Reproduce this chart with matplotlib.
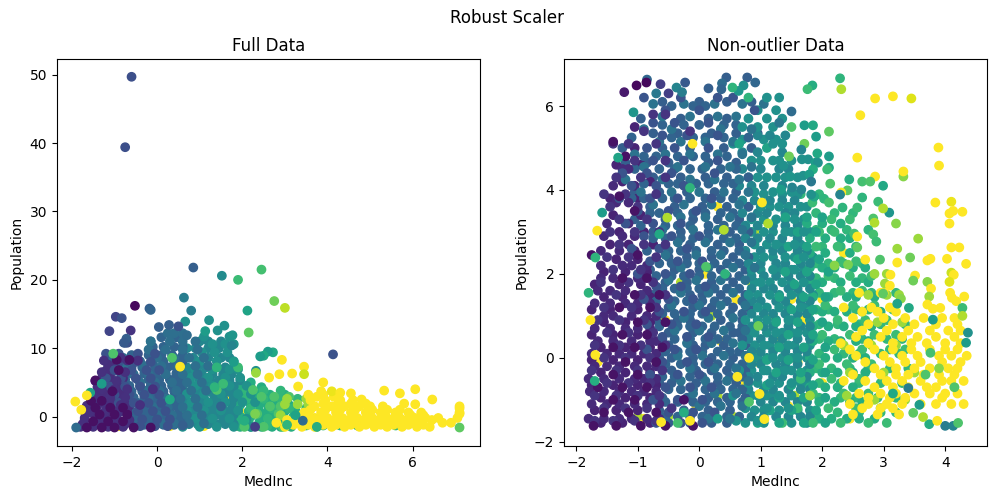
import numpy as np
import matplotlib
matplotlib.use("Agg")
import matplotlib.pyplot as plt

TITLE = "Robust Scaler"
PANEL_TITLES = ["Full Data", "Non-outlier Data"]
XLABEL = "MedInc"
YLABEL = "Population"

# ---------- Full Data: rows {Population: [MedInc, ...]} per colour band ----------
L_yellow_core = {-1.4:[-0.9,0.3,1.1,1.9,2.4], 0.5:[0.6,1.2,2.0], 2.5:[0.5,1.7]}
L_fill_green = {-1.5:[1.95,2.2,2.45,2.7,2.9,3.15], -0.8:[1.9,2.15,2.4,2.65,2.85,3.1], 0.0:[1.95,2.2,2.45,2.7,2.95,3.2], 0.8:[1.9,2.15,2.4,2.6,2.8,3.0,3.25], 1.7:[1.95,2.2,2.4,2.6,2.85,3.1], 2.4:[1.9,2.15,2.35,2.6,2.8], 3.2:[1.9,2.1,2.35,2.65,3.0], 4.3:[1.95,2.2,2.45], 5.0:[2.2]}
L_fill_teal = {-1.1:[0.75,0.95,1.2,1.4,1.6,1.8], -0.5:[0.7,0.9,1.1,1.3,1.55,1.75], 0.3:[0.75,0.95,1.2,1.4,1.6,1.8], 1.1:[0.7,0.9,1.15,1.35,1.55,1.75], 1.9:[0.6,0.85,1.05,1.3,1.5,1.75], 2.7:[0.65,0.9,1.1,1.35,1.55,1.8], 3.6:[0.55,0.8,1.0,1.25,1.45,1.7], 4.4:[0.6,0.85,1.1,1.3,1.55,1.8], 5.3:[0.55,0.75,1.0,1.25,1.45,1.7,1.95], 6.2:[0.6,0.8,1.05,1.3,1.55,1.75], 7.2:[0.7,0.95,1.15,1.4,1.6,1.8], 8.6:[0.65,0.85,1.2,1.5,1.7], 10.0:[0.7,0.9,1.2,1.45], 11.0:[1.0,1.2,1.5]}
L_fill_blue = {-1.2:[-0.55,-0.3,-0.1,0.15,0.4,0.6], -0.4:[-0.5,-0.2,0.05,0.2,0.45,0.6], 0.4:[-0.6,-0.35,-0.15,0.1,0.3,0.5], 1.2:[-0.65,-0.4,-0.2,0.05,0.3,0.5], 2.0:[-0.7,-0.45,-0.25,0.0,0.25,0.45], 2.8:[-0.8,-0.55,-0.3,-0.05,0.2,0.4], 3.7:[-0.9,-0.6,-0.35,-0.1,0.15,0.4,0.6], 4.5:[-0.95,-0.65,-0.4,-0.15,0.1,0.35,0.55], 5.4:[-1.05,-0.75,-0.45,-0.2,0.05,0.3,0.5], 6.3:[-1.1,-0.85,-0.6,-0.3,-0.05,0.2,0.45], 7.2:[-1.15,-0.9,-0.6,-0.35,-0.05,0.25,0.45], 8.1:[-1.1,-0.75,-0.4,-0.1,0.15,0.4,0.6], 9.0:[-0.9,-0.6,-0.2,0.1,0.35,0.6], 10.2:[-0.1,0.15,0.4,0.6], 11.6:[0.1,0.45]}
L_fill_dark = {-1.1:[-1.75,-1.5,-1.25,-1.0,-0.75], -0.2:[-1.7,-1.45,-1.2,-0.95,-0.7], 0.7:[-1.7,-1.45,-1.2,-0.95,-0.7], 1.6:[-1.65,-1.4,-1.15,-0.95,-0.65], 2.5:[-1.55,-1.3,-1.0,-0.8], 3.4:[-1.45,-1.25,-1.05,-0.85], 4.3:[-1.4,-1.15,-0.85], 5.6:[-1.3,-1.1,-0.8], 6.7:[-1.2,-1.0], 7.6:[-1.15,-0.95]}
L_green_low = {-1.3:[2.6,3.0,3.5,3.9,4.3,4.7,5.6], -0.3:[2.1,2.6,3.2,3.7], 1.2:[2.2,2.7,3.1,3.5], 2.6:[2.1,2.5,2.9,3.3], 3.8:[2.1,2.5,2.9]}
L_teal = {-1.5:[0.6,1.0,1.4,1.8,2.2], -0.3:[0.9,1.3,1.7,2.1], 0.9:[0.7,1.1,1.5,1.9], 2.1:[0.8,1.2,1.6,2.0,2.3], 3.3:[0.7,1.1,1.5,1.9,2.2], 4.5:[0.9,1.3,1.7,2.1], 5.7:[0.8,1.2,1.6,1.95], 6.9:[0.9,1.3,1.7,1.9], 8.1:[1.0,1.4,1.8], 9.4:[1.05,1.35,1.65], 10.6:[1.3,1.6,1.8], 11.7:[1.1,1.7]}
L_steel = {-1.0:[0.1,0.4,0.75,1.1], 0.2:[0.0,0.35,0.7,1.05], 1.4:[-0.1,0.25,0.6,0.95], 2.6:[-0.2,0.2,0.55,0.9], 3.8:[-0.3,0.05,0.45,0.8,1.15], 5.0:[-0.4,-0.05,0.35,0.7,1.05], 6.2:[-0.55,-0.2,0.2,0.6,0.95], 7.4:[-0.7,-0.3,0.1,0.5,0.9,1.2], 8.6:[-0.8,0.0,0.4,0.75,1.1], 9.8:[-0.2,0.2,0.6,0.95], 11.0:[-0.15,0.3,0.6,0.9], 12.2:[0.25,0.4,0.6]}
L_blue = {-1.4:[-0.4,-0.05,0.25], -0.4:[-0.7,-0.35,0.0,0.3], 0.8:[-0.8,-0.45,-0.1,0.2], 2.0:[-0.9,-0.55,-0.2,0.1], 3.2:[-1.0,-0.65,-0.3,0.05], 4.4:[-1.1,-0.75,-0.4,-0.05], 5.6:[-1.2,-0.85,-0.5,-0.15], 6.8:[-1.0,-0.6,-0.25,0.05], 8.0:[-0.9,-0.5,-0.15], 9.2:[-1.2,-0.9,-0.45,-0.05], 10.8:[-0.75,-0.7]}
L_indigo = {-1.5:[-1.8,-1.5,-1.15,-0.8], -0.5:[-1.7,-1.35,-1.0,-0.65], 0.6:[-1.6,-1.25,-0.9], 1.7:[-1.55,-1.2,-0.85,-0.4], 2.8:[-1.45,-1.1,-0.75], 4.0:[-1.3,-1.0,-0.7,-0.1], 5.2:[-1.45,-0.95], 6.5:[-1.3,-0.75], 8.2:[-1.25,-0.7,-0.45], 8.6:[-0.85]}
L_dark = {-1.6:[-1.65,-1.3,-1.0,-0.55,-0.15], -0.7:[-1.5,-1.15,-0.8], 0.3:[-1.35,-1.0,-0.7], 1.3:[-1.45,-1.1,-0.8], 2.3:[-1.55,-1.3], 3.7:[-1.05], 5.3:[-1.45], 6.8:[-0.9], 8.3:[-0.65,-0.95]}
L_green_top = {-1.5:[2.05,2.5,2.95,3.75], 0.4:[2.35,2.85], 1.5:[2.65,2.9], 2.9:[2.45,2.75,3.1], 3.9:[1.4,2.25]}
L_lime_mid = {0.2:[2.9,3.4], 1.8:[3.0,3.3,3.55], 2.6:[3.05,3.5]}
L_yellow_right = {-1.5:[3.0,3.4,3.7,4.1,4.4,4.75,5.1,5.4,5.75,6.1,6.4], -0.9:[2.8,3.2,3.6,3.95,4.3,4.65,5.0,5.3,5.65,6.0,6.7,6.9], -0.2:[3.3,3.7,4.0,4.35,4.7,5.05,5.4,5.7,6.05,6.3,6.6,7.05], 0.6:[3.45,3.85,4.2,4.55,4.9,5.25,5.6,5.9,6.2,7.1], 1.5:[3.7,4.1,4.4,4.75,5.0,5.3,7.1], 2.4:[3.6,3.95,4.3,4.6], 3.2:[3.55,3.9]}
L_yellow_right2 = {-1.2:[3.2,3.55,3.9,4.2,4.55,4.9,5.25,5.55,5.9,6.25], -0.5:[3.05,3.45,3.8,4.15,4.5,4.85,5.2,5.5,5.85,6.15,6.45], 0.2:[3.55,3.9,4.25,4.6,4.95,5.3,5.6,5.95,6.25], 1.0:[3.6,3.95,4.3,4.65,5.05,5.4,5.7], 1.9:[3.9,4.25,4.55,4.9], 2.9:[3.75,4.15]}

# sparse points read individually: (MedInc, Population, colour)
L_sparse = [(-0.6,49.7,.24),(-0.75,39.4,.24),(0.85,21.8,.3),(1.52,20.6,.48),(1.9,20,.68),(2.45,21.5,.7),(2.75,16.9,.78),(3.0,15.9,.9),
 (-0.52,16.2,.02),(-0.18,15.8,.3),(-0.15,15.6,.32),(-0.97,14.6,.2),(-0.83,14.4,.25),(0.63,17.4,.42),(0.8,15.5,.42),(2.12,15.5,.58),(1.22,14.1,.5),
 (0.66,13.9,.5),(1.58,13.3,.5),(1.42,12.6,.5),(2.15,12.3,.75),(-1.12,12.5,.2),(-0.62,12.6,.15),(0.04,13.1,.3),(0.28,13.4,.3),(0.5,13.2,.25),(0.7,11.9,.35),
 (1.13,12.5,.55),(1.77,11.9,.52),(1.75,10.4,.45),(-0.72,11.4,.3),(-0.78,10.8,.28),(-0.15,11.0,.38),(4.13,9.1,.25),
 (-1.03,9.2,.72),(0.35,8.6,.72),(0.54,7.3,1),(-1.3,4.8,.55),(-1.57,3.5,.58),(-1.92,2.2,1),(-1.78,1.0,1),(-1.65,3.1,1),(-1.9,-1.6,.35),
 (7.1,0.4,1),(7.1,1.2,1),(6.46,2.5,1),(6.06,4,1),(5.7,3.4,1),(5.33,3.8,1),(5.8,1.9,1),(6.06,1.8,1),
 (2.93,8.3,1),(3.45,7.3,1),(3.45,6.2,.92),(3.17,6.3,1),(2.87,6.2,1),(2.63,5.7,1),(2.32,6.7,.5),(2.32,6.4,.85),(3.9,5.0,1),(3.85,3.7,1),(3.31,4.4,1),(4.1,3.7,.97),(4.3,3.5,1),(4.55,3.4,1),(4.8,2.5,1),
 (2.72,9.4,.6),(2.6,9.5,.55),(2.5,8.9,.6),(2.42,8.8,.55),(1.9,7.2,.68),(1.8,8.0,.55),(1.4,7.2,.65),(1.55,4.8,.68),(1.35,4.3,.65),
 (3.05,-1.2,.65),(3.25,0.2,.58),(3.42,-0.6,.35),(3.75,-1.5,.62),(2.3,0.4,.8),(2.05,-0.6,.62),(0.3,2.5,.6),(0.6,-1.3,.3),(1.5,1.5,.32),(2.3,-1.5,.18),(7.1,-1.6,.75)]

# ---------- Non-outlier Data ----------
R_yellow_core = {-1.45:[-0.9,1.9,2.45], -1.15:[-0.05,1.45], -0.6:[-1.7,0.75,2.0], -0.1:[-1.65,0.95,1.6], 0.4:[0.35,1.3], 0.9:[-0.55,1.7], 1.4:[0.6,1.5,2.0], 2.0:[-0.9,0.1], 2.5:[1.6,2.35], 3.6:[0.3]}
R_lime_core = {-1.4:[-0.5,-1.0,0.55], -0.9:[0.3,1.55], 0.2:[0.9,1.75], 1.0:[0.2,1.2], 1.8:[-0.3,0.85], 3.0:[0.45,0.9]}
R_deep_green = {-1.3:[1.9,2.25,2.6,2.95,3.2], -0.95:[1.95,2.3,2.55,2.9,3.2], -0.6:[1.95,2.3,2.6,2.95,3.3], -0.25:[1.9,2.15,2.45,2.75,3.1,3.4], 0.1:[1.95,2.35,2.6,2.95,3.25], 0.45:[1.95,2.2,2.65,3.05,3.3], 0.8:[1.95,2.25,2.6,2.95,3.35], 1.15:[1.9,2.1,2.55,2.75,3.15], 1.55:[1.95,2.2,2.5,2.8,3.2], 1.9:[1.9,2.2,2.65], 2.25:[1.9,2.1,2.35,2.65], 2.65:[2.0,2.3,2.55], 3.05:[1.9,2.15,2.4], 3.45:[1.9,2.2,2.5], 3.9:[1.65,1.95]}
R_deep_teal = {-1.55:[0.75,1.05,1.5,1.75], -1.25:[0.9,1.05,1.3,1.6,1.8], -0.9:[0.85,1.1,1.2,1.5,1.8], -0.6:[0.95,1.3,1.65,1.75], -0.3:[0.85,1.1,1.3,1.5,1.75], 0.0:[0.95,1.1,1.35,1.5,1.75], 0.3:[0.9,1.15,1.3,1.55,1.8], 0.6:[0.85,1.1,1.35,1.5,1.75], 0.9:[0.95,1.25,1.5,1.8], 1.2:[0.85,1.1,1.45,1.75], 1.5:[0.95,1.3,1.65,1.85], 1.8:[0.9,1.15,1.5,1.8], 2.1:[1.0,1.3,1.5,1.7], 2.4:[0.9,1.2,1.55,1.85], 2.7:[1.1,1.35,1.65], 3.0:[0.85,1.2,1.5,1.8], 3.3:[1.05,1.4,1.7], 3.6:[0.8,1.15,1.45,1.75], 3.9:[1.05,1.35,1.6], 4.3:[0.8,1.1,1.4,1.6], 4.7:[1.0,1.3,1.5], 5.2:[0.7,1.05,1.25], 5.7:[0.8,1.1,1.35]}
R_deep_blue = {-1.55:[-0.5,-0.15,0.2,0.45], -1.25:[-0.65,-0.25,0.15,0.5], -0.95:[-0.6,-0.2,0.15,0.45,0.75], -0.6:[-0.65,-0.45,-0.05,0.3,0.6], -0.3:[-0.45,-0.05,0.2,0.45,0.75], 0.0:[-0.65,-0.45,-0.1,0.2,0.55], 0.3:[-0.5,-0.1,0.1,0.4,0.75], 0.6:[-0.5,-0.1,0.2,0.55,0.65], 0.9:[-0.7,-0.35,-0.15,0.35,0.7], 1.2:[-0.5,-0.1,0.2,0.55,0.8], 1.5:[-0.75,-0.15,0.05,0.35,0.75], 1.8:[-0.55,-0.2,0.2,0.55], 2.1:[-0.8,-0.4,0.0,0.35,0.75], 2.4:[-0.5,-0.2,0.2,0.55,0.8], 2.7:[-0.75,-0.15,0.3,0.65], 3.0:[-0.75,-0.3,0.15,0.5,0.8], 3.3:[-1.05,-0.55,-0.1,0.3,0.65], 3.6:[-0.8,-0.4,0.05,0.45,0.8], 3.95:[-1.05,-0.65,-0.2,0.25,0.6], 4.3:[-0.75,-0.3,0.1,0.45,0.8], 4.65:[-1.2,-0.85,-0.5,0.15,0.6], 5.0:[-1.25,-0.6,-0.15,0.4,0.85], 5.35:[-0.75,-0.35,0.2,0.6,0.95], 5.7:[-0.95,-0.3,0.15,0.45], 6.1:[-0.6,0.0,0.45,0.85]}
R_deep_dark = {-1.55:[-1.6,-1.25,-0.8], -1.25:[-1.7,-1.35,-1.0], -0.95:[-1.6,-1.2,-0.8], -0.65:[-1.75,-1.4,-1.0,-0.7], -0.35:[-1.6,-1.2,-0.8], -0.05:[-1.75,-1.4,-1.0], 0.25:[-1.6,-1.2,-0.8], 0.55:[-1.75,-1.4,-1.0], 0.85:[-1.55,-1.2,-0.8], 1.15:[-1.75,-1.45,-1.0], 1.45:[-1.55,-1.25,-0.8], 1.75:[-1.7,-1.3,-0.95], 2.05:[-1.55,-1.2,-0.85], 2.35:[-1.35,-1.0], 2.7:[-1.45,-1.15,-0.75], 3.0:[-1.3,-0.9], 3.4:[-1.4,-0.95], 3.8:[-1.45,-1.0], 4.2:[-1.25,-0.8], 4.6:[-1.35,-0.95], 5.0:[-1.05], 5.5:[-1.05]}
R_fill_green = {-1.45:[1.95,2.15,2.4,2.6,2.85], -1.05:[1.75,1.95,2.2,2.45,2.65], -0.7:[1.8,2.05,2.25,2.5], -0.35:[1.8,2.0,2.25,2.5,2.7], 0.0:[1.8,2.05,2.25,2.5,2.7], 0.4:[1.85,2.1,2.3,2.55,2.75], 0.75:[1.85,2.1,2.35,2.55,2.8], 1.1:[1.8,2.0,2.2,2.4,2.65,2.95], 1.45:[1.85,2.1,2.4,2.55,2.85], 1.8:[1.8,2.0,2.3,2.55,2.75], 2.15:[1.8,2.0,2.2,2.5,2.7], 2.5:[1.8,2.05,2.45], 2.85:[1.8,2.05,2.3,2.45], 3.2:[1.75,2.0,2.3]}
R_fill_teal = {-1.4:[0.85,1.05,1.25,1.45,1.65,1.8], -1.05:[0.8,1.0,1.2,1.4,1.6,1.75], -0.75:[0.8,1.05,1.2,1.45,1.65,1.8], -0.45:[0.8,0.95,1.2,1.35,1.6,1.75], -0.15:[0.85,1.0,1.25,1.4,1.6,1.8], 0.15:[0.85,1.0,1.2,1.4,1.6,1.75], 0.45:[0.8,1.0,1.2,1.35,1.6,1.8], 0.75:[0.85,1.05,1.2,1.45,1.65,1.8], 1.05:[0.85,1.05,1.2,1.4,1.6,1.75], 1.35:[0.85,1.0,1.25,1.4,1.65,1.8], 1.65:[0.85,1.05,1.2,1.45,1.6,1.8], 1.95:[0.85,1.05,1.25,1.45,1.65,1.8], 2.25:[0.8,1.0,1.25,1.4,1.65,1.8], 2.55:[0.75,1.0,1.2,1.35,1.6,1.75], 2.85:[0.75,0.95,1.15,1.35,1.6], 3.15:[0.75,0.95,1.2,1.4,1.6], 3.45:[0.7,0.95,1.1,1.4,1.55], 3.75:[0.7,0.9,1.15,1.35,1.55], 4.1:[0.65,0.85,1.05,1.35], 4.5:[0.7,1.0,1.3,1.45], 4.9:[0.7,0.95,1.35], 5.3:[0.95,1.15,1.4]}
R_fill_blue = {-1.4:[-0.55,-0.35,-0.15,0.05,0.25,0.45,0.65], -1.05:[-0.55,-0.35,-0.1,0.1,0.3,0.5,0.7], -0.75:[-0.5,-0.3,-0.1,0.1,0.35,0.55,0.7], -0.45:[-0.6,-0.4,-0.15,0.05,0.3,0.5,0.7], -0.15:[-0.55,-0.3,-0.1,0.1,0.3,0.5,0.7], 0.15:[-0.55,-0.35,-0.15,0.05,0.3,0.5,0.65], 0.45:[-0.6,-0.4,-0.15,0.1,0.3,0.45,0.7], 0.75:[-0.65,-0.35,-0.15,0.05,0.25,0.5,0.7], 1.05:[-0.6,-0.4,-0.15,0.05,0.3,0.5,0.7], 1.35:[-0.7,-0.4,-0.2,0.05,0.25,0.45,0.7], 1.65:[-0.6,-0.4,-0.2,0.0,0.25,0.45,0.65], 1.95:[-0.7,-0.45,-0.25,0.0,0.2,0.45,0.65], 2.25:[-0.65,-0.45,-0.2,0.0,0.25,0.45,0.65], 2.55:[-0.85,-0.5,-0.3,-0.05,0.2,0.4,0.65], 2.85:[-0.75,-0.55,-0.3,-0.1,0.15,0.4,0.6], 3.15:[-0.95,-0.55,-0.35,-0.15,0.15,0.4,0.6], 3.45:[-0.8,-0.65,-0.35,-0.1,0.1,0.35,0.55], 3.8:[-1.1,-0.9,-0.6,-0.4,-0.15,0.1,0.35,0.55], 4.15:[-0.9,-0.5,-0.35,-0.05,0.15,0.4,0.55], 4.5:[-1.05,-0.65,-0.4,-0.15,0.05,0.35,0.6], 4.8:[-0.9,-0.7,-0.35,-0.1,0.1,0.45], 5.25:[-1.1,-0.45,-0.1,0.1,0.4,0.8], 5.55:[-0.6,-0.25,0.0,0.4,0.6], 6.0:[-0.45,-0.1,0.1]}
R_fill_dark = {-1.45:[-1.8,-1.55,-1.3,-1.1,-0.85,-0.65], -1.1:[-1.75,-1.5,-1.3,-1.05,-0.85,-0.65], -0.8:[-1.78,-1.55,-1.3,-1.1,-0.9,-0.7], -0.5:[-1.8,-1.55,-1.3,-1.05,-0.9,-0.7], -0.2:[-1.7,-1.5,-1.3,-1.05,-0.85,-0.7], 0.1:[-1.75,-1.5,-1.3,-1.1,-0.9,-0.7], 0.4:[-1.65,-1.4,-1.1,-0.8,-0.7], 0.7:[-1.7,-1.45,-1.2,-1.0,-0.8], 1.0:[-1.55,-1.4,-1.1,-0.85,-0.7], 1.3:[-1.7,-1.45,-1.2,-1.0,-0.8], 1.6:[-1.65,-1.45,-1.2,-0.85], 1.9:[-1.6,-1.4,-1.0,-0.9], 2.2:[-1.6,-1.25,-1.1,-0.85], 2.55:[-1.6,-1.3,-1.05], 2.9:[-1.55,-1.25,-1.05], 3.2:[-1.5,-1.15], 3.7:[-1.35,-1.15], 4.1:[-1.4,-1.05], 4.5:[-1.25,-1.15]}
R_green = {-1.55:[1.35,1.85,2.3,2.75,3.05], -1.2:[1.6,2.1,2.55,2.95], -0.85:[1.85,2.35,2.75], -0.5:[1.65,2.15,2.6,3.0], -0.15:[1.95,2.4,2.8], 0.2:[2.2,2.65,3.1,3.35], 0.55:[2.0,2.45,2.85,3.2], 0.9:[2.25,2.7,3.05], 1.25:[2.05,2.5,2.85], 1.6:[2.3,2.65], 1.95:[2.1,2.45,2.8], 2.3:[2.3,2.55], 2.65:[1.9,2.25], 3.0:[1.95,2.2], 3.3:[2.15,2.45]}
R_greenteal = {-1.55:[0.95,1.3,1.7,2.05], -1.25:[1.15,1.5,1.9], -0.95:[1.3,1.7,2.05], -0.65:[1.1,1.5,1.85], -0.35:[1.25,1.65,2.05], -0.05:[1.1,1.45,1.85], 0.25:[1.3,1.7,2.05], 0.55:[1.45,1.85], 0.85:[1.25,1.6,2.0], 1.15:[1.5,1.85], 1.45:[1.3,1.7,2.05], 1.75:[1.55,1.9], 2.05:[1.4,1.75,2.1], 2.35:[1.6,1.95], 2.65:[1.45,1.75], 3.0:[1.6,1.9], 3.35:[1.4,1.75,2.0], 5.0:[1.1]}
R_teal = {-1.5:[0.6,0.95], -1.2:[0.75,1.1,1.45], -0.9:[0.55,0.95,1.3], -0.6:[0.8,1.15,1.5], -0.3:[0.65,1.05,1.4], 0.0:[0.85,1.2,1.6], 0.3:[0.7,1.05,1.45], 0.6:[0.9,1.25,1.6], 0.9:[0.75,1.1,1.45], 1.2:[0.95,1.3,1.65], 1.5:[0.8,1.15,1.5], 1.8:[1.0,1.35,1.7], 2.1:[0.85,1.2,1.55], 2.4:[1.05,1.4,1.7], 2.7:[0.9,1.25,1.55], 3.0:[1.05,1.4,1.7], 3.3:[0.85,1.25,1.55], 3.6:[1.0,1.3,1.65], 3.95:[0.9,1.2,1.5], 4.3:[0.95,1.25], 4.7:[0.85,1.2], 5.1:[0.55,1.2,1.35], 5.5:[0.7,0.95,1.2], 5.9:[0.95,1.25]}
R_steel = {-1.45:[0.15,0.5], -1.15:[0.0,0.35,0.7], -0.85:[-0.1,0.25,0.6], -0.55:[-0.3,0.1,0.45,0.8], -0.25:[-0.15,0.25,0.6], 0.05:[-0.35,0.05,0.4,0.75], 0.35:[-0.2,0.2,0.55], 0.65:[-0.4,0.0,0.4,0.75], 0.95:[-0.25,0.15,0.55], 1.25:[-0.45,0.0,0.35,0.75], 1.55:[-0.3,0.15,0.55], 1.85:[-0.5,-0.05,0.35,0.75], 2.15:[-0.3,0.15,0.55,0.9], 2.45:[-0.55,-0.05,0.35,0.75], 2.75:[-0.35,0.1,0.5,0.85], 3.05:[-0.6,-0.1,0.3,0.7], 3.35:[-0.3,0.1,0.5,0.85], 3.65:[-0.75,-0.25,0.2,0.65], 3.95:[-0.95,-0.45,0.0,0.4,0.8], 4.25:[-1.2,-0.6,-0.15,0.25,0.65], 4.55:[-0.9,-0.35,0.1,0.5,0.85], 4.85:[-1.05,-0.55,-0.15,0.3,0.7], 5.15:[-0.65,-0.3,0.1,0.55], 5.45:[-0.9,-0.45,0.35,0.85], 5.75:[-0.6,-0.15,0.3,0.6], 6.05:[-0.75,-0.25,0.25,0.7,1.05]}
R_blue = {-1.55:[-0.7,-0.3,0.05], -1.3:[-0.5,-0.1,0.25], -1.0:[-0.75,-0.35,0.05], -0.7:[-0.55,-0.15,0.2], -0.4:[-0.8,-0.35,0.0], -0.1:[-0.6,-0.2,0.15], 0.2:[-0.85,-0.4,-0.05], 0.5:[-0.6,-0.2,0.15], 0.8:[-0.85,-0.45,-0.05], 1.1:[-0.65,-0.25,0.1], 1.4:[-0.9,-0.5,-0.1], 1.7:[-0.7,-0.3,0.1], 2.0:[-1.0,-0.55,-0.15], 2.3:[-0.8,-0.35,0.05], 2.6:[-1.1,-0.65,-0.2], 2.9:[-0.9,-0.45,0.0], 3.2:[-1.2,-0.75,-0.3], 3.5:[-1.0,-0.5,-0.05], 3.8:[-1.3,-0.8,-0.35,0.2], 4.1:[-1.1,-0.7,-0.25], 4.4:[-1.25,-0.85,-0.45,0.25], 4.7:[-0.75,-0.25,0.3], 5.0:[-0.85,-0.4,0.15], 5.3:[-0.6,-0.2,0.3], 5.6:[-0.75,-0.4,0.15], 5.9:[-0.55,0.0,0.9], 6.2:[-0.9,-0.3,0.3,0.55]}
R_indigo = {-1.5:[-1.7,-1.4,-1.05,-0.7], -1.2:[-1.55,-1.2,-0.85,-0.45], -0.9:[-1.7,-1.35,-1.0,-0.65], -0.6:[-1.5,-1.15,-0.8], -0.3:[-1.75,-1.35,-1.0,-0.6], 0.0:[-1.55,-1.2,-0.8], 0.3:[-1.7,-1.3,-0.95,-0.55], 0.6:[-1.5,-1.15,-0.75], 0.9:[-1.65,-1.3,-0.9], 1.2:[-1.55,-1.1,-0.7], 1.5:[-1.35,-0.95,-0.55], 1.8:[-1.6,-1.15,-0.75], 2.1:[-1.4,-0.95], 2.4:[-1.5,-1.15,-0.7], 2.7:[-1.3,-0.9,-0.55], 3.0:[-1.45,-1.05,-0.65], 3.3:[-1.3,-0.85], 3.6:[-1.45,-1.0], 3.9:[-1.55,-1.2,-0.7], 4.3:[-1.35,-0.95,-0.55], 4.7:[-1.05,-0.55], 5.1:[-1.4,-1.15,-0.7], 5.4:[-0.9,-0.15], 5.8:[-0.75,-0.55]}
R_dark = {-1.62:[-1.72,-1.35,-0.95,-0.55,-0.1], -1.3:[-1.55,-1.15,-0.7], -1.0:[-1.4,-1.05,-0.25], -0.7:[-1.65,-1.25,-0.85], -0.4:[-1.4,-1.0], -0.1:[-1.2,-0.7], 0.25:[-1.4,-1.05,-0.6], 0.55:[-1.25,-0.85], 0.85:[-1.0,-0.55], 1.2:[-1.3,-0.8], 1.5:[-1.05,-0.65], 1.9:[-1.25,-0.85], 2.45:[-1.75,-1.0], 3.5:[-1.05], 3.85:[-1.3], 4.8:[-1.2], 5.15:[-1.4]}
R_lime_right = {-1.0:[2.85,3.35], -0.35:[2.45,3.0,3.5], 0.3:[2.35,2.8,3.2], 0.85:[2.9,3.3], 1.5:[2.75,3.05,3.25], 2.0:[2.85,3.05], -0.9:[1.8,2.4]}
R_yellow_right = {-1.35:[2.5,2.9,3.25], -1.1:[2.45,2.75,3.05,3.3,3.6,3.85,4.1,4.3], -0.85:[2.6,2.95,3.2,3.5,3.75,4.0,4.2], -0.55:[2.35,2.7,3.05,3.3,3.6,3.95,4.1,4.3], -0.25:[2.85,3.2,3.5,3.75,4.05,4.2], 0.05:[2.55,3.0,3.3,3.55,3.9,4.1,4.35], 0.35:[2.3,2.75,3.15,3.45,3.7,4.0,4.25], 0.65:[2.65,3.05,3.4,3.75,4.05,4.25], 0.95:[2.5,3.0,3.35,3.65,3.95,4.15], 1.2:[2.35,2.8,3.1], 1.55:[2.6,2.95,3.0]}
R_yellow_right2 = {-1.2:[2.65,2.95,3.15], -0.95:[2.75,3.1,3.35,3.95], -0.7:[2.85,3.15,3.4,3.7,3.85,4.15], -0.4:[2.5,2.95,3.2,3.4,3.65,3.9,4.15], -0.1:[2.7,3.1,3.35,3.6,3.95,4.25], 0.2:[2.45,2.85,3.15,3.45,3.75,4.0,4.2], 0.5:[2.55,2.95,3.3,3.55,3.85,4.15], 0.8:[2.75,3.15,3.5,3.85,4.2], 1.1:[2.65,2.9,3.2]}

# sparse points read individually: (MedInc, Population, colour)
R_sparse = [(2.29,6.66,.65),(2.31,6.4,.88),(1.84,6.49,.62),(1.76,6.4,.68),(2.86,6.18,1),(3.15,6.23,1),(3.45,6.18,.95),(2.62,5.78,1),(1.5,5.87,.35),(1.5,5.5,.72),(1.71,5.54,.55),(1.85,5.54,.6),(2.11,5.39,.75),(1.9,5.27,.55),
 (1.71,5.1,.78),(1.66,4.96,.45),(1.46,4.8,.78),(1.92,4.87,.6),(2.11,4.8,.55),(1.67,4.73,.5),(1.77,4.73,.5),(1.89,4.65,.55),(1.93,4.65,.5),(1.37,4.58,.5),(2.11,4.53,.6),(2.08,4.49,.68),(1.85,4.49,.62),
 (2.57,4.77,1),(3.89,5.01,1),(3.9,4.58,1),(3.32,4.32,.82),(3.32,4.44,1),(2.86,4.32,1),(1.48,4.32,.52),(1.69,4.34,.5),(1.79,4.37,.55),(1.82,4.2,.4),(2.44,4.25,.62),(2.65,4.2,.7),(2.78,4.2,.72),(2.99,4.1,.6),(2.13,4.15,.72),
 (2.41,3.99,.75),(2.31,3.94,1),(2.29,3.89,.45),(2.65,3.82,.65),(2.91,3.72,.68),(2.03,3.79,.65),(2.11,3.7,.7),(1.84,3.7,.68),(1.87,3.84,.6),(1.82,3.89,.5),(1.51,4.06,.45),(1.66,4.01,.45),(1.33,4.01,.55),
 (3.84,3.7,1),(4.1,3.72,.97),(4.28,3.48,1),(4.13,3.5,1),(4.07,3.44,1),(4.07,3.2,1),(3.09,3.46,.52),(2.99,3.56,.88),(2.57,3.58,.68),(2.33,3.58,.65),(2.83,3.32,.72),(2.85,3.22,.88),(3.2,3.2,.82),(2.75,3.05,.65),(2.83,2.94,.7),(2.88,2.77,.68),(2.52,2.96,.7),(2.57,2.89,1),(3.56,2.84,.85),(4.1,2.63,1),(4.23,2.63,1),(3.22,2.6,.85),(2.57,2.63,.75),
 (3.43,2.39,.78),(2.94,2.34,.72),(3.22,2.27,1),(3.71,2.32,1),(3.76,2.36,1),(4.03,2.36,1),(4.34,2.24,1),(2.7,2.34,1),(2.2,2.2,.82),(2.42,2.22,.8),(3.11,1.98,1),(3.51,1.96,1),(3.48,1.84,.78),(3.71,1.81,.82),(4.1,2.03,.92),(4.14,1.98,1),(4.07,1.81,.95),(3.77,1.65,1),(4.08,1.55,1),(3.74,1.46,.85),(4.11,1.43,1),(4.31,1.46,1),(4.18,1.35,1),(3.71,1.27,1),(3.8,1.17,1),(3.92,1.19,1),(4.28,1.19,.68),(4.28,1.0,.88),(3.41,1.19,.6),(3.28,1.41,.82),(3.22,1.29,.58),(3.02,1.77,.85),(2.99,1.53,.75),(3.1,1.72,1),
 (3.8,0.91,.55),(4.37,.6,.5),(4.34,.36,.55),(3.4,-.72,.42),(3.58,-1.12,.55),(3.76,.12,.7),(4.0,-1.62,.42),(4.13,-1.62,.45),(4.21,-1.55,.72),(3.74,-1.58,.62),(3.48,-1.31,.75),(3.64,-1.41,.88),(3.87,-1.5,1),(3.15,-.85,.6),(3.68,-.4,.72),(4.15,-.7,.72),(3.9,-.25,.82),
 (-.85,6.63,.33),(-.86,6.56,.02),(-1.02,6.49,.02),(-1.22,6.33,.07),(-.63,6.52,.18),(-.37,6.44,.45),(-.23,6.56,.28),(.44,6.68,.3),(.78,6.68,.3),(.91,6.56,.33),(.15,6.42,.3),(.37,6.54,.35),(.36,6.4,.32),(.72,6.49,.5),(.64,6.36,.53),(-.28,6.33,.42),(-.5,6.3,.18),(-.7,6.3,.4),(1.3,6.2,.5),(1.1,6.2,.5),(1.3,5.6,.4),
 (1.02,3.7,1),(-1.66,3.03,1),(-1.77,.9,1),(-1.69,.07,1),(-.62,-1.53,1),(-.15,-1.5,1),(1.06,-1.46,1),(.98,-.86,1),(.62,-.45,1),(.81,0,1),(-.11,5.1,1),(-.52,3.34,.88),(1.12,3.2,.88),(.4,3.05,.88),
 (.11,2.17,.72),(.42,2.0,.65),(.96,.76,.78),(.81,-1.05,.72),(-1.8,1.55,.65),(-1.69,2.39,.65),(-1.32,4.77,.58),(-1.07,5.85,.52),(-1.58,3.46,.55),(.54,6.44,.65),(.8,6.2,.65),(-1.7,-.55,.62),(-.25,-1.3,.62),(-.35,-1.55,.7),(.3,-1.45,.55),(-.15,4.05,.65),(.65,5.1,.58),(-.65,2.95,.6)]


def expand(rows, value):
    """Turn {y: [x, ...]} into x, y, colour lists."""
    xs, ys = [], []
    for y_val, x_vals in rows.items():
        xs += x_vals
        ys += [y_val] * len(x_vals)
    return xs, ys, [value] * len(xs)


def assemble(groups, sparse):
    xs, ys, cs = [], [], []
    for rows, value in groups:
        a, b, c = expand(rows, value)
        xs += a; ys += b; cs += c
    for a, b, c in sparse:
        xs.append(a); ys.append(b); cs.append(c)
    return np.array(xs), np.array(ys), np.array(cs)


left = assemble([(L_yellow_core, 1.0), (L_fill_green, .62), (L_fill_teal, .46), (L_fill_blue, .32), (L_fill_dark, .13),
                 (L_green_low, .66), (L_teal, .5), (L_steel, .36), (L_blue, .25), (L_indigo, .14),
                 (L_dark, .04), (L_green_top, .72), (L_lime_mid, .85), (L_yellow_right2, 1.0), (L_yellow_right, 1.0)], L_sparse)
right = assemble([(R_yellow_core, 1.0), (R_lime_core, .88), (R_deep_green, .66), (R_deep_teal, .5), (R_deep_blue, .3), (R_deep_dark, .1),
                  (R_fill_green, .62), (R_fill_teal, .46), (R_fill_blue, .32), (R_fill_dark, .12),
                  (R_green, .68), (R_greenteal, .58), (R_teal, .5), (R_steel, .38),
                  (R_blue, .26), (R_indigo, .15), (R_dark, .05), (R_lime_right, .85), (R_yellow_right2, 1.0), (R_yellow_right, 1.0)], R_sparse)

fig = plt.figure(figsize=(9.96, 4.98), dpi=100)
W, H = 996, 498
def box(l, r, t, b):
    return [l / W, 1 - b / H, (r - l) / W, (b - t) / H]

ax1 = fig.add_axes(box(57, 480, 59, 446))
ax2 = fig.add_axes(box(564, 987, 59, 446))

for ax, data, title in zip((ax1, ax2), (left, right), PANEL_TITLES):
    ax.scatter(data[0], data[1], c=data[2], cmap="viridis", vmin=0, vmax=1)
    ax.set_title(title)
    ax.set_xlabel(XLABEL)
    ax.set_ylabel(YLABEL)

ax1.set_xlim(-2.35, 7.58)
ax1.set_ylim(-4.3, 52.3)
ax1.set_xticks([-2, 0, 2, 4, 6])
ax1.set_yticks([0, 10, 20, 30, 40, 50])
ax2.set_xlim(-2.2, 4.68)
ax2.set_ylim(-2.1, 7.12)
ax2.set_xticks([-2, -1, 0, 1, 2, 3, 4])
ax2.set_yticks([-2, 0, 2, 4, 6])

fig.text(507 / W, 1 - 18 / H, TITLE, ha="center", va="center", fontsize=12)
fig.savefig("out.png", dpi=100)
